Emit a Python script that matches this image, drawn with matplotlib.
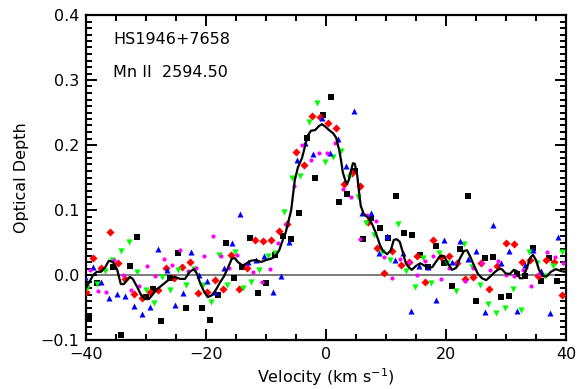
import matplotlib
matplotlib.use("Agg")
import matplotlib.pyplot as plt
from matplotlib.ticker import MultipleLocator

plt.rcParams['font.family'] = ['DejaVu Sans']

# ---- data (velocity km/s, optical depth) ----
black_v = [-39.5, -38.2, -35.5, -34.2, -32.7, -31.5, -30.0, -28.8, -27.5, -26.0, -24.7, -23.3,
           -20.7, -19.3, -18.0, -16.7, -15.3, -14.0, -12.7, -11.3, -10.0, -8.5, -7.2, -5.8,
           -4.5, -3.2, -1.8, -0.5, 0.8, 2.2, 3.5, 4.8, 6.2, 7.5, 9.0, 10.3, 11.7, 13.0, 14.3,
           15.7, 17.0, 18.3, 19.7, 21.0, 22.3, 23.7, 25.0, 26.5, 27.8, 29.2, 30.5, 31.8,
           33.2, 34.5, 35.8, 37.2, 38.5]
black_t = [-0.065, -0.012, 0.012, -0.092, 0.014, 0.058, -0.034, -0.022, -0.071, -0.005, 0.034, -0.051,
           -0.051, -0.069, -0.031, 0.049, -0.005, 0.012, 0.057, -0.028, -0.012, 0.031, 0.060, 0.055,
           0.095, 0.211, 0.149, 0.246, 0.274, 0.112, 0.125, 0.160, 0.055, 0.088, 0.072, 0.057, 0.122,
           0.065, 0.062, 0.031, 0.012, 0.045, 0.018, -0.017, 0.040, 0.122, -0.040, 0.026, 0.028,
           -0.034, -0.032, 0.002, -0.002, 0.042, -0.009, 0.026, -0.009]

red_v = [-40.0, -38.8, -37.5, -36.0, -34.7, -33.5, -32.0, -30.7, -29.3, -28.0, -26.7, -25.3,
         -24.0, -22.7, -21.3, -19.8, -18.5, -17.2, -15.8, -14.5, -13.2, -11.8, -10.5, -9.2,
         -7.8, -6.5, -5.0, -3.7, -2.3, -1.0, 0.3, 1.7, 3.0, 4.3, 5.7, 7.0, 8.5, 9.7, 11.0,
         12.5, 13.8, 15.2, 16.5, 17.8, 19.2, 20.5, 21.8, 23.2, 24.5, 25.8, 27.2, 28.5, 30.0,
         31.3, 32.7, 34.0, 35.3, 36.7, 38.0, 39.3]
red_t = [-0.026, 0.026, 0.011, 0.066, 0.018, -0.006, -0.029, -0.035, -0.026, -0.023, 0.011, -0.005,
         0.012, 0.020, -0.028, -0.026, -0.008, -0.022, 0.031, -0.022, 0.011, 0.054, 0.052, 0.054,
         0.068, 0.078, 0.189, 0.169, 0.245, 0.243, 0.234, 0.226, 0.140, 0.157, 0.137, 0.082, 0.042,
         0.003, 0.037, 0.015, 0.020, 0.029, -0.011, 0.054, 0.028, 0.029, 0.018, -0.006, -0.003,
         0.018, -0.022, 0.014, 0.049, 0.048, 0.020, 0.023, -0.002, 0.023, 0.020, -0.031]

green_v = [-39.8, -38.2, -36.8, -35.7, -34.2, -32.8, -31.5, -30.0, -28.7, -27.3, -26.0, -24.7,
           -23.3, -22.0, -20.5, -19.2, -17.8, -16.5, -15.2, -13.8, -12.5, -11.2, -9.7, -8.5,
           -7.0, -5.7, -4.3, -2.8, -1.5, -0.2, 1.2, 2.5, 3.8, 5.3, 6.7, 8.0, 9.3, 10.7, 12.0,
           13.3, 14.8, 16.2, 17.5, 18.8, 20.2, 21.7, 23.0, 24.3, 25.7, 27.0, 28.3, 29.8, 31.2,
           32.5, 33.8, 35.2, 36.5, 37.8, 39.3]
green_t = [-0.020, -0.014, 0.006, 0.023, 0.037, 0.051, 0.005, -0.023, -0.043, -0.003, -0.023, 0.008,
           -0.015, 0.009, -0.015, -0.042, 0.031, -0.015, 0.035, -0.020, -0.011, 0.008, 0.029, 0.034,
           0.097, 0.149, 0.152, 0.235, 0.265, 0.174, 0.182, 0.191, 0.151, 0.120, 0.080, 0.062, 0.035,
           0.023, 0.078, 0.006, -0.018, 0.026, -0.012, 0.034, 0.018, -0.025, 0.048, 0.012, -0.015,
           -0.045, -0.058, -0.051, -0.022, -0.054, 0.035, 0.018, -0.002, 0.014, 0.035]

blue_v = [-40.2, -38.8, -37.5, -36.2, -34.8, -33.5, -32.0, -30.7, -29.3, -28.0, -26.5, -25.2,
          -23.8, -22.5, -21.2, -19.8, -18.5, -17.0, -15.7, -14.3, -13.0, -11.7, -10.3, -8.8,
          -7.5, -6.2, -4.8, -3.5, -2.2, -0.7, 0.7, 2.0, 3.3, 4.7, 6.0, 7.5, 8.8, 10.2, 11.5,
          12.8, 14.2, 15.5, 17.0, 18.3, 19.7, 21.0, 22.3, 23.7, 25.0, 26.5, 27.8, 29.2, 30.5,
          31.8, 33.2, 34.5, 35.8, 37.3, 38.7]
blue_t = [-0.003, 0.012, -0.011, -0.035, -0.029, -0.032, -0.048, -0.060, -0.049, 0.040, 0.008, -0.046,
          -0.028, 0.035, 0.000, -0.009, -0.026, 0.011, 0.049, 0.094, 0.020, 0.023, 0.029, -0.026,
          -0.002, 0.051, 0.177, 0.203, 0.186, 0.242, 0.188, 0.209, 0.168, 0.252, 0.095, 0.095, 0.034,
          0.060, 0.023, 0.034, -0.055, 0.014, 0.012, -0.038, 0.054, 0.020, 0.052, 0.025, 0.037,
          -0.057, 0.077, 0.018, 0.037, -0.055, 0.015, 0.038, 0.006, -0.058, 0.058]

mag_v = [-39.3, -38.0, -36.7, -35.3, -33.8, -32.5, -31.2, -29.8, -28.5, -27.0, -25.7, -24.3,
         -23.0, -21.7, -20.3, -18.8, -17.5, -16.2, -14.8, -13.5, -12.2, -10.7, -9.3, -8.0,
         -6.7, -5.3, -4.0, -2.5, -1.2, 0.2, 1.5, 2.8, 4.2, 5.7, 6.8, 8.3, 9.7, 11.0, 12.3,
         13.8, 15.2, 16.5, 17.8, 19.2, 20.5, 21.8, 23.2, 24.5, 26.0, 27.3, 28.7, 30.0, 31.3,
         32.8, 34.2, 35.5, 36.8, 38.2, 39.5]
mag_t = [0.008, -0.025, -0.026, 0.023, 0.000, -0.023, -0.017, 0.014, -0.002, 0.025, 0.015, 0.038,
         0.006, 0.011, 0.029, 0.060, 0.029, 0.011, 0.031, 0.017, 0.005, -0.011, 0.009, 0.049,
         0.078, 0.137, 0.200, 0.177, 0.188, 0.188, 0.203, 0.132, 0.120, 0.055, 0.092, 0.083, 0.028,
         -0.005, 0.025, 0.020, 0.000, 0.022, 0.029, -0.006, 0.011, 0.018, -0.009, 0.011, 0.018,
         0.008, 0.022, 0.000, -0.002, 0.008, -0.017, 0.002, 0.035, 0.028, 0.018]

line_v = [-40.2, -39.5, -38.8, -38.2, -37.5, -36.8, -36.2, -35.5, -34.8, -34.2, -33.7, -33.2,
          -32.7, -32.2, -31.5, -30.8, -30.2, -29.5, -28.8, -28.2, -27.5, -26.3, -25.2, -24.3,
          -23.5, -22.7, -22.0, -21.5, -21.0, -20.3, -19.7, -19.0, -18.3, -17.7, -17.0, -16.3,
          -15.7, -15.2, -14.7, -13.8, -13.2, -12.5, -11.7, -10.8, -10.0, -9.2, -8.5, -7.8,
          -7.2, -6.7, -6.2, -5.8, -5.5, -5.2, -4.7, -4.0, -3.5, -3.0, -2.5, -1.8, -1.2, -0.7,
          -0.2, 0.5, 1.2, 1.7, 2.2, 2.5, 2.8, 3.2, 3.5, 3.8, 4.2, 4.5, 4.8, 5.2, 5.5, 5.8,
          6.3, 7.0, 7.7, 8.3, 9.0, 9.5, 10.2, 10.8, 11.3, 11.8, 12.3, 12.8, 13.3, 13.8, 14.3,
          15.0, 15.7, 16.3, 17.0, 17.7, 18.3, 19.0, 19.7, 20.3, 21.0, 21.7, 22.3, 23.0, 23.5,
          24.0, 24.7, 25.3, 26.0, 26.7, 27.3, 28.2, 28.8, 29.3, 30.0, 30.7, 31.3, 31.8, 32.3,
          32.8, 33.5, 34.0, 34.5, 35.0, 35.5, 36.2, 36.8, 37.5, 38.3, 39.2, 39.8]
line_t = [-0.023, -0.012, 0.000, 0.005, 0.005, 0.012, 0.022, 0.020, 0.008, -0.014, -0.014, -0.008,
          -0.003, -0.006, -0.018, -0.031, -0.037, -0.037, -0.029, -0.022, -0.017, -0.008, -0.003, -0.006,
          -0.006, 0.005, 0.009, 0.002, -0.012, -0.026, -0.034, -0.031, -0.022, -0.012, -0.002, 0.012,
          0.025, 0.026, 0.020, 0.014, 0.018, 0.022, 0.023, 0.020, 0.023, 0.025, 0.028, 0.038,
          0.054, 0.066, 0.085, 0.100, 0.123, 0.146, 0.165, 0.180, 0.198, 0.215, 0.222, 0.223, 0.229, 0.232,
          0.229, 0.223, 0.218, 0.211, 0.192, 0.177, 0.158, 0.146, 0.140, 0.146, 0.162, 0.172, 0.171, 0.154, 0.128, 0.106,
          0.094, 0.088, 0.078, 0.065, 0.046, 0.037, 0.032, 0.038, 0.054, 0.055, 0.051, 0.035, 0.018, 0.012, 0.008,
          0.014, 0.018, 0.015, 0.011, 0.012, 0.020, 0.029, 0.029, 0.018, 0.008, 0.011, 0.025, 0.037, 0.038,
          0.029, 0.014, 0.002, -0.005, -0.008, -0.003, 0.005, 0.009, 0.009, 0.002, 0.002, 0.008, 0.006, -0.005,
          -0.005, 0.011, 0.026, 0.031, 0.023, 0.008, -0.002, -0.002, 0.005, 0.009, 0.006, 0.005]

title_lines = ["HS1946+7658", "Mn II  2594.50"]

fig = plt.figure(figsize=(5.79, 3.89), dpi=100)
ax = fig.add_axes([86/579, 1 - 340/389, 480/579, 325/389])

ax.axhline(0.0, color='#707070', lw=1.3, zorder=1)

ax.scatter(black_v, black_t, marker='s', s=16, c='black', linewidths=0, zorder=3)
ax.scatter(red_v, red_t, marker='D', s=17, c='#ff0000', linewidths=0, zorder=3)
ax.scatter(green_v, green_t, marker='v', s=20, c='#00ff00', linewidths=0, zorder=3)
ax.scatter(blue_v, blue_t, marker='^', s=19, c='#0000ff', linewidths=0, zorder=3)
ax.scatter(mag_v, mag_t, marker='o', s=9, c='#ff00ff', linewidths=0, zorder=3)
ax.plot(line_v, line_t, color='black', lw=1.6, zorder=4, solid_joinstyle='round')

ax.set_xlim(-40, 40)
ax.set_ylim(-0.1, 0.4)
ax.xaxis.set_major_locator(MultipleLocator(20))
ax.xaxis.set_minor_locator(MultipleLocator(5))
ax.yaxis.set_major_locator(MultipleLocator(0.1))
ax.yaxis.set_minor_locator(MultipleLocator(0.01))
ax.yaxis.set_major_formatter(plt.FuncFormatter(lambda v, p: f"{v:.1f}".replace('-', '\u2212')))

ax.tick_params(which='both', direction='in', top=True, right=True, labelsize=11.5, width=1.4, colors='black')
ax.tick_params(which='major', length=8, pad=5)
ax.tick_params(which='minor', length=4)
for sp in ax.spines.values():
    sp.set_linewidth(1.6)

ax.set_xlabel("Velocity (km s$^{-1}$)", fontsize=11.5, labelpad=3)
ax.set_ylabel("Optical Depth", fontsize=11.5, labelpad=8)

ax.text(0.056, 0.926, title_lines[0], transform=ax.transAxes, fontsize=11.5, va='center', ha='left')
ax.text(0.056, 0.822, title_lines[1], transform=ax.transAxes, fontsize=11.5, va='center', ha='left')

fig.savefig("out.png", dpi=100)
